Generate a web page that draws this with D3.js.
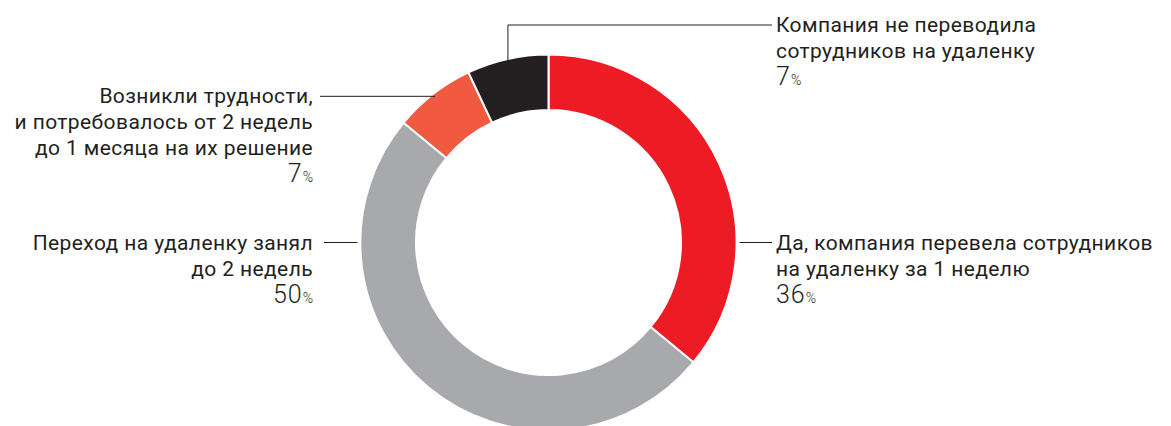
<!DOCTYPE html>
<html>
<head>
<meta charset="utf-8">
<script src="https://cdn.jsdelivr.net/npm/d3@7"></script>
<style>
  body { margin: 0; background: #fff; }
  text { font-family: Roboto, "Liberation Sans", sans-serif; fill: #231f20; }
</style>
</head>
<body>
<div id="chart"></div>
<script>
// data, clockwise from 12 o'clock
const categories = ["Да", "Переход", "Трудности", "Нет"];
const values = [36, 50, 7, 7];
const colors = ["#ed1c24", "#a7a9ac", "#f15a40", "#231f20"];
const labelLines = [
    ["Да, компания перевела сотрудников", "на удаленку за 1 неделю"],
    ["Переход на удаленку занял", "до 2 недель"],
    ["Возникли трудности,", "и потребовалось от 2 недель", "до 1 месяца на их решение"],
    ["Компания не переводила", "сотрудников на удаленку"]
];

document.addEventListener('DOMContentLoaded', () => {
    const width = 1171, height = 426;
    const cx = 548.5, cy = 242.5;
    const outerR = 188, innerR = 132.5;

    const svg = d3.select("#chart")
        .append("svg")
        .attr("width", width)
        .attr("height", height);

    const data = categories.map((c, i) => ({ key: c, value: values[i], color: colors[i], lines: labelLines[i] }));

    const pie = d3.pie().sort(null).value(d => d.value);
    const arc = d3.arc().innerRadius(innerR).outerRadius(outerR);
    const arcs = pie(data);

    const g = svg.append("g").attr("transform", `translate(${cx},${cy})`);

    g.selectAll("path")
        .data(arcs)
        .enter().append("path")
        .attr("d", arc)
        .attr("fill", d => d.data.color)
        .attr("stroke", "#fff")
        .attr("stroke-width", 2);

    const pt = (a, r) => [cx + r * Math.sin(a), cy - r * Math.cos(a)];
    const mid = d => (d.startAngle + d.endAngle) / 2;
    const lh = 26;

    function label(x, y, lines, value, anchor) {
        const t = svg.append("g");
        lines.forEach((s, i) => {
            t.append("text")
                .attr("x", x).attr("y", y + i * lh)
                .attr("text-anchor", anchor)
                .style("font-size", "21px")
                .style("letter-spacing", "0.4px")
                .text(s);
        });
        const p = t.append("text")
            .attr("x", x).attr("y", y + lines.length * lh + 1)
            .attr("text-anchor", anchor)
            .style("font-weight", 300);
        p.append("tspan").style("font-size", "25px").style("letter-spacing", "1px").text(value);
        p.append("tspan").style("font-size", "14px").text("%");
    }

    const line = d3.line();
    const path = pts => svg.append("path")
        .attr("d", line(pts))
        .attr("fill", "none")
        .attr("stroke", "#231f20")
        .attr("stroke-width", 1);

    // red: leader from the right-most point of the ring
    const aRed = pt(Math.PI / 2, outerR + 3);
    path([aRed, [772, aRed[1]]]);
    label(776, aRed[1] + 7, arcs[0].data.lines, arcs[0].data.value, "start");

    // grey: leader from the left-most point
    const aGrey = pt(3 * Math.PI / 2, outerR + 3);
    path([aGrey, [324, aGrey[1]]]);
    label(313, aGrey[1] + 7, arcs[1].data.lines, arcs[1].data.value, "end");

    // orange: leader from the middle of the slice
    const aOr = pt(mid(arcs[2]), outerR - 3);
    path([aOr, [320, aOr[1]]]);
    label(313, aOr[1] + 7, arcs[2].data.lines, arcs[2].data.value, "end");

    // black: up, then right
    const aBl = pt(mid(arcs[3]), outerR - 2);
    path([aBl, [aBl[0], 25], [772, 25]]);
    label(776, 32, arcs[3].data.lines, arcs[3].data.value, "start");
});
</script>
</body>
</html>
